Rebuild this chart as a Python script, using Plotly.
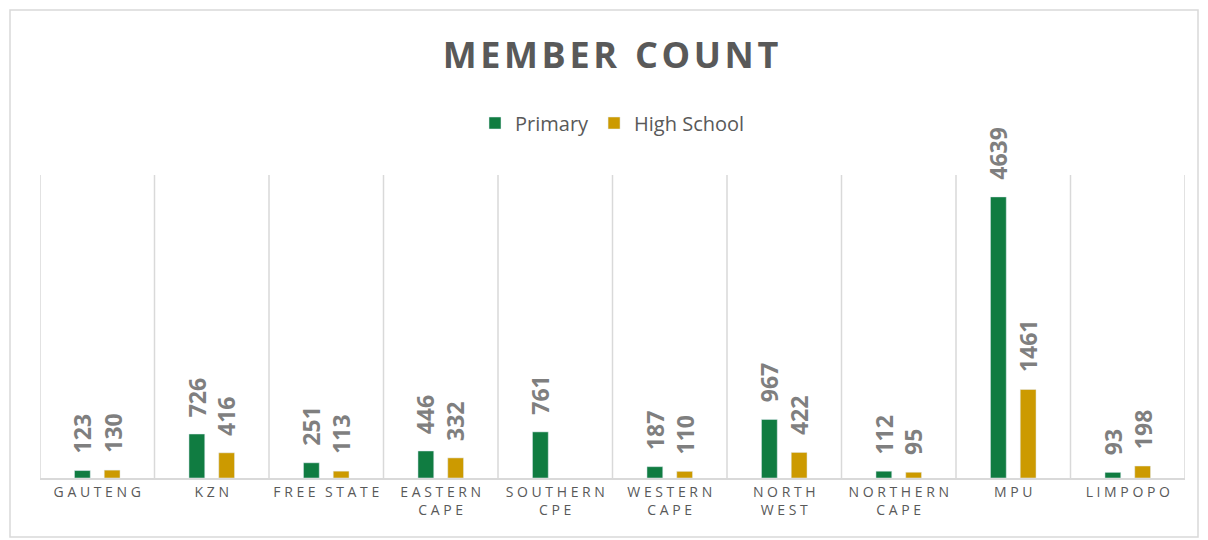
import plotly.graph_objects as go

categories = ["GAUTENG", "KZN", "FREE STATE", "EASTERN CAPE", "SOUTHERN CPE",
              "WESTERN CAPE", "NORTH WEST", "NORTHERN CAPE", "MPU", "LIMPOPO"]
tick_labels = ["GAUTENG", "KZN", "FREE STATE", "EASTERN<br>CAPE", "SOUTHERN<br>CPE",
               "WESTERN<br>CAPE", "NORTH<br>WEST", "NORTHERN<br>CAPE", "MPU", "LIMPOPO"]
primary = [123, 726, 251, 446, 761, 187, 967, 112, 4639, 93]
high_school = [130, 416, 113, 332, None, 110, 422, 95, 1461, 198]

GREEN = "#107C41"
GOLD = "#CC9A00"
GRID = "#D9D9D9"
TXT = "#595959"
LBL = "#7F7F7F"


def spaced(s, sep=" ", wsep="\u2002\u2009"):
    out = []
    for line in s.split("<br>"):
        words = line.split(" ")
        out.append(wsep.join(sep.join(list(w)) for w in words))
    return "<br>".join(out)


# page body has an 8px margin, so the figure is drawn at (8, 8)
W, H = 1200, 532
ml, mr, mt, mb = 32, 23, 167, 62
pw, ph = W - ml - mr, H - mt - mb

fig = go.Figure()
bw = 0.138
off = 0.13
xs = list(range(len(categories)))
fig.add_trace(go.Bar(name="Primary", x=xs, y=primary, marker_color=GREEN,
                     width=bw, offset=-off - bw / 2))
fig.add_trace(go.Bar(name="High School", x=xs, y=high_school, marker_color=GOLD,
                     width=bw, offset=off - bw / 2))

annotations = []
for series, dx in ((primary, -off), (high_school, off)):
    for i, v in enumerate(series):
        if v is None:
            continue
        annotations.append(dict(x=i + dx, y=v, xref="x", yref="y", text=str(v),
                                showarrow=False, textangle=-90, yanchor="bottom",
                                xanchor="center", yshift=15,
                                font=dict(family="Open Sans", size=23, color=LBL,
                                          weight="bold")))

fig.update_layout(
    width=W, height=H,
    margin=dict(l=ml, r=mr, t=mt, b=mb),
    paper_bgcolor="white", plot_bgcolor="white",
    barmode="overlay",
    title=dict(text=spaced("MEMBER COUNT", "\u200a", "\u2002"), x=602.5 / W,
               xanchor="center", y=1 - 47 / H, yanchor="middle", yref="container",
               font=dict(family="Open Sans", size=36, color=TXT, weight="bold")),
    legend=dict(orientation="h", x=0.5, xanchor="center", y=1 + 52 / ph,
                yanchor="middle", font=dict(family="Open Sans", size=20, color=TXT),
                itemclick=False),
    xaxis=dict(range=[-0.5, len(categories) - 0.5], tickmode="array", tickvals=xs,
               ticktext=[spaced(t) for t in tick_labels],
               showgrid=False, showline=True, linecolor=GRID, linewidth=2,
               ticks="", zeroline=False,
               tickfont=dict(family="Open Sans", size=14, color=TXT)),
    yaxis=dict(range=[0, 5000], visible=False),
    annotations=annotations,
    shapes=[dict(type="rect", xref="paper", yref="paper",
                 x0=(2 - ml) / pw, x1=(1190 - ml) / pw,
                 y0=-(529 - (H - mb)) / ph, y1=((H - mb) - 2) / ph,
                 line=dict(color=GRID, width=1.5), layer="below")]
    + [dict(type="line", xref="x", yref="paper", x0=b - 0.5, x1=b - 0.5, y0=0, y1=1,
            line=dict(color=GRID, width=1.5), layer="below")
       for b in range(len(categories) + 1)],
)

fig.write_html("out.html")
